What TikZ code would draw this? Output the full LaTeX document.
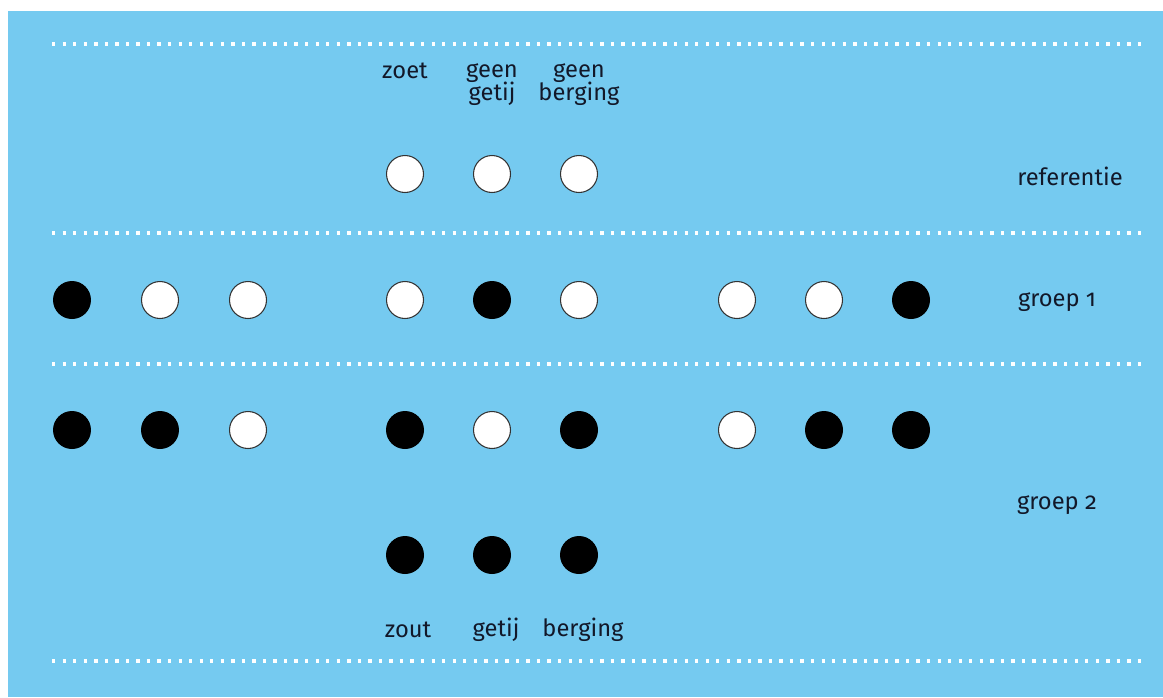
\documentclass[tikz,border=0pt]{standalone}
\usepackage{fontspec}
\setmainfont{Fira Sans}[Numbers=OldStyle]
\usepackage{xcolor}
\definecolor{SkyBlue}{HTML}{75CAF0}
\definecolor{InkNavy}{HTML}{121829}
\usetikzlibrary{positioning}

\tikzset{
    open/.style={circle, draw=black!80, line width=0.6pt, fill=white, minimum size=0.74cm, inner sep=0pt},
    shut/.style={circle, fill=black, minimum size=0.76cm, inner sep=0pt},
    divider/.style={white, line width=1.9pt, dash pattern=on 1.9pt off 4.1pt},
    lbl/.style={text=InkNavy, font=\fontsize{13.5}{13.5}\selectfont, align=center, inner sep=0pt}
}

\begin{document}
\begin{tikzpicture}[x=0.02cm, y=-0.02cm]
    \useasboundingbox (0,0) rectangle (1163,697);
    \fill[SkyBlue] (8,11) rectangle (1163,697);

    % Dotted dividers
    \draw[divider] (52,44) -- (1141,44);
    \draw[divider] (52,233) -- (1141,233);
    \draw[divider] (52,364) -- (1141,364);
    \draw[divider] (52,661) -- (1141,661);

    % Reference row
    \node[lbl, anchor=north] (zoet) at (405,63) {zoet};
    \node[lbl, anchor=north] (geengetij) at (492,63) {geen\\getij};
    \node[lbl, anchor=north] (geenberging) at (579,63) {geen\\berging};
    \node[open] (r1) at (405,174) {};
    \node[open] (r2) at (492,174) {};
    \node[open] (r3) at (579,174) {};
    \node[lbl] (ref) at (1070,176) {referentie};

    % Group 1
    \node[shut] (a1) at (72,300) {};
    \node[open] (a2) at (160,300) {};
    \node[open] (a3) at (248,300) {};
    \node[open] (a4) at (405,300) {};
    \node[shut] (a5) at (492,300) {};
    \node[open] (a6) at (579,300) {};
    \node[open] (a7) at (737,300) {};
    \node[open] (a8) at (824,300) {};
    \node[shut] (a9) at (911,300) {};
    \node[lbl] (g1) at (1057,302) {groep 1};

    % Group 2
    \node[shut] (b1) at (72,430) {};
    \node[shut] (b2) at (160,430) {};
    \node[open] (b3) at (248,430) {};
    \node[shut] (b4) at (405,430) {};
    \node[open] (b5) at (492,430) {};
    \node[shut] (b6) at (579,430) {};
    \node[open] (b7) at (737,430) {};
    \node[shut] (b8) at (824,430) {};
    \node[shut] (b9) at (911,430) {};
    \node[lbl] (g2) at (1057,505) {groep 2};

    \node[shut] (c1) at (405,555) {};
    \node[shut] (c2) at (492,555) {};
    \node[shut] (c3) at (579,555) {};
    \node[lbl] (zout) at (408,630) {zout};
    \node[lbl] (getij) at (496,630) {getij};
    \node[lbl] (berging) at (583,630) {berging};
\end{tikzpicture}
\end{document}
